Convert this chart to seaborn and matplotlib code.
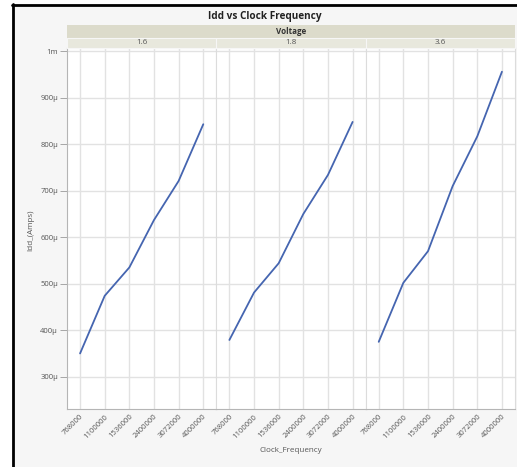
import numpy as np
import pandas as pd
import matplotlib
matplotlib.use("Agg")
import matplotlib.pyplot as plt
from matplotlib.patches import Rectangle
from matplotlib.lines import Line2D
from matplotlib.ticker import FuncFormatter
import seaborn as sns

# data (Idd in microamps)
clock_freq = ["768000", "1100000", "1536000", "2400000", "3072000", "4000000"]
voltages = ["1.6", "1.8", "3.6"]
idd_16 = [350, 474, 535, 637, 721, 843]
idd_18 = [379, 481, 544, 650, 734, 848]
idd_36 = [375, 502, 570, 710, 817, 956]
y_ticks = [300, 400, 500, 600, 700, 800, 900, 1000]

df = pd.DataFrame({
    "Clock_Frequency": clock_freq * 3,
    "Voltage": np.repeat(voltages, len(clock_freq)),
    "Idd_(Amps)": np.array(idd_16 + idd_18 + idd_36) * 1e-6,
})

sns.set_theme(style="white")
plt.rcParams["font.family"] = ["Open Sans", "DejaVu Sans"]

W, H = 517, 467
fig = plt.figure(figsize=(W / 100, H / 100), dpi=100)
fig.patch.set_facecolor("white")

# outer panel background + dark frame on left/top
fig.add_artist(Rectangle((12 / W, 0), 1 - 12 / W, 1 - 4 / H, transform=fig.transFigure,
                         facecolor="#f6f6f6", edgecolor="none", zorder=-10))
fig.add_artist(Line2D([13 / W, 13 / W], [0, 1 - 4 / H], transform=fig.transFigure,
                      color="black", lw=2))
fig.add_artist(Line2D([12 / W, 1], [1 - 5 / H, 1 - 5 / H], transform=fig.transFigure,
                      color="black", lw=2))

left_px, right_px, top_px, bot_px = 67, 515, 48, 409
pw = (right_px - left_px) / 3
tick_color = "#555555"
grid_color = "#e2e2e2"

def fmt(v, pos):
    u = v * 1e6
    if round(u) >= 1000:
        return "1m"
    return f"{u:.0f}µ"

axes = []
for i, volt in enumerate(voltages):
    ax = fig.add_axes([(left_px + i * pw) / W, 1 - bot_px / H, pw / W, (bot_px - top_px) / H])
    ax.set_facecolor("white")
    sub = df[df["Voltage"] == volt]
    sns.lineplot(data=sub, x="Clock_Frequency", y="Idd_(Amps)", sort=False,
                 color="#4565b0", lw=1.3, ax=ax)
    ax.set_xlim(-0.53, len(clock_freq) - 0.47)
    ax.set_ylim(230.5e-6, 1007e-6)
    ax.set_yticks(np.array(y_ticks) * 1e-6)
    ax.yaxis.set_major_formatter(FuncFormatter(fmt))
    ax.grid(True, color=grid_color, lw=1)
    ax.set_axisbelow(True)
    ax.set_xticks(range(len(clock_freq)))
    ax.set_xticklabels(clock_freq, rotation=45, ha="right", rotation_mode="anchor",
                       fontsize=5.5, color=tick_color)
    ax.tick_params(axis="x", length=0, pad=3)
    ax.set_xlabel("")
    ax.set_ylabel("")
    for s in ax.spines.values():
        s.set_color("#dcdcdc")
        s.set_linewidth(0.8)
    if i == 0:
        ax.tick_params(axis="y", length=5, width=0.6, color="#999999", labelsize=5.5,
                       labelcolor=tick_color, left=True, pad=1.5)
        ax.spines["left"].set_color("#b5b5b5")
    else:
        ax.tick_params(axis="y", left=False, labelleft=False)
    ax.spines["bottom"].set_color("#b5b5b5")
    axes.append(ax)

# strips
fig.add_artist(Rectangle((left_px / W, 1 - 37.7 / H), (right_px - left_px) / W, 13.2 / H,
                         transform=fig.transFigure, facecolor="#dcdbcb", edgecolor="none"))
fig.text((left_px + right_px) / 2 / W, 1 - 31 / H, "Voltage", ha="center", va="center",
         fontsize=5.8, fontweight="bold", color="#333333")
for i, volt in enumerate(voltages):
    x0 = left_px + i * pw
    fig.add_artist(Rectangle((x0 / W, 1 - top_px / H), pw / W, 10.3 / H,
                             transform=fig.transFigure, facecolor="#e8e8dd",
                             edgecolor="#f6f6f6", lw=0.8))
    fig.text((x0 + pw / 2) / W, 1 - 43 / H, volt, ha="center", va="center",
             fontsize=5.8, color=tick_color)

fig.text(265 / W, 1 - 16 / H, "Idd vs Clock Frequency", ha="center", va="center",
         fontsize=7.2, fontweight="bold", color="#222222")
fig.text(291 / W, 1 - 451 / H, "Clock_Frequency", ha="center", va="center",
         fontsize=5.8, color=tick_color)
fig.text(31 / W, 1 - 230 / H, "Idd_(Amps)", ha="center", va="center", rotation=90,
         fontsize=5.8, color=tick_color)

fig.savefig("out.png", dpi=100)
